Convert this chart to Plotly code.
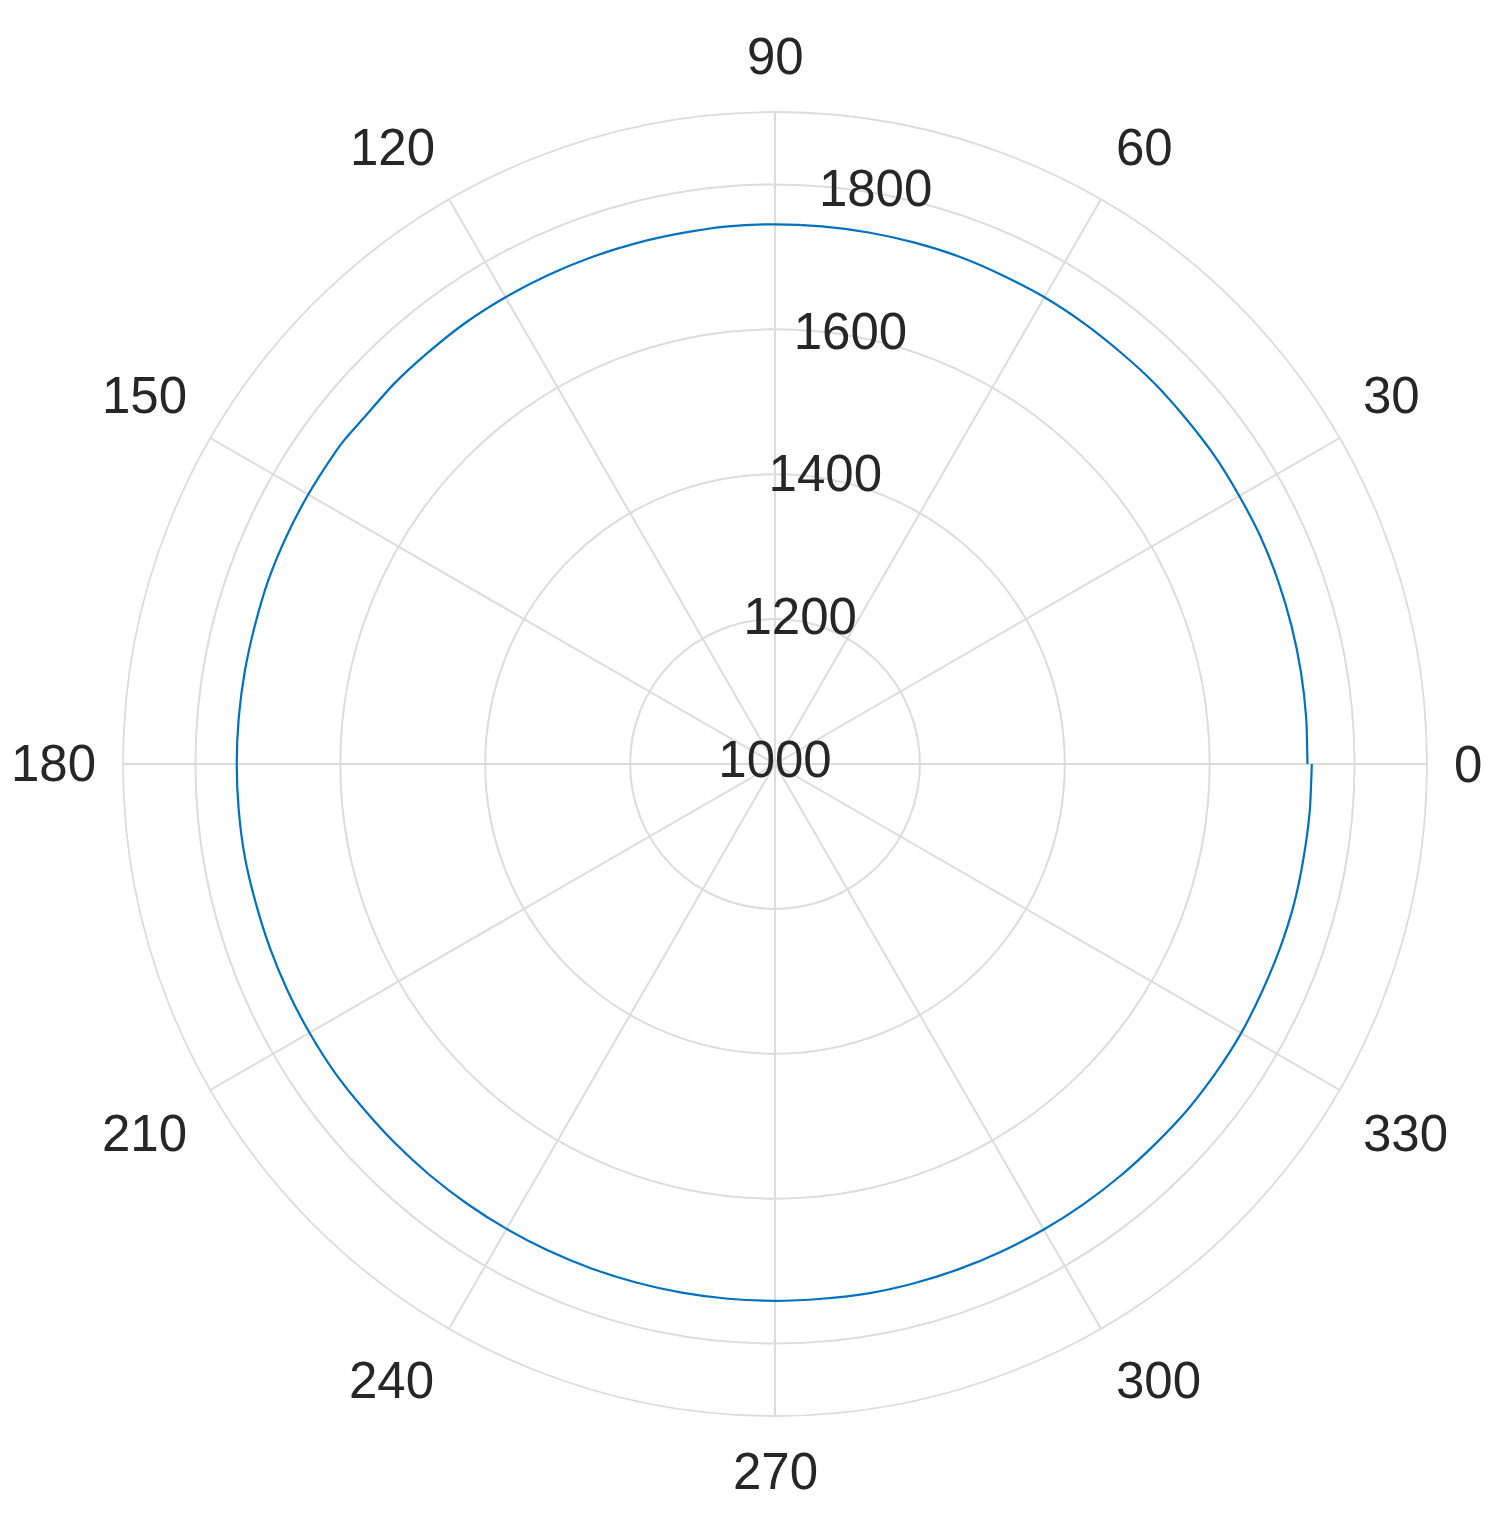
import math
import plotly.graph_objects as go

# Data (every 5 degrees)
theta_deg = sorted(list(range(0, 365, 5)) + [143])
r_vals = [
    1735, 1736, 1737, 1738, 1739, 1740, 1740, 1741, 1741, 1742,   # 0-45
    1742, 1743, 1744, 1744, 1745, 1745, 1745, 1745, 1745, 1745,   # 50-95
    1744, 1744, 1744, 1744, 1744, 1744, 1743, 1743, 1742,         # 100-140
    1744,                                                          # 143
    1744, 1744, 1744, 1744, 1743, 1743, 1743, 1743, 1743, 1743,   # 145-190
    1742, 1742, 1742, 1742, 1742, 1741, 1741, 1741, 1741, 1741,   # 195-240
    1741, 1741, 1741, 1741, 1741, 1741, 1741, 1742, 1742, 1742,   # 245-290
    1742, 1742, 1742, 1742, 1742, 1743, 1743, 1743, 1742, 1742,   # 295-340
    1742, 1741, 1741, 1741, 1741,                                 # 345-360
]

angle_ticks = [0, 30, 60, 90, 120, 150, 180, 210, 240, 270, 300, 330]
angle_labels = [str(a) for a in angle_ticks]
radial_ticks = [1000, 1200, 1400, 1600, 1800]
radial_labels = [str(v) for v in radial_ticks]
r_range = [1000, 1900]
radial_label_angle = 80

W, H = 1500, 1528
GRID = "rgb(220,220,220)"
TEXT = "rgb(38,38,38)"
FONT = "Liberation Sans, Arial, sans-serif"
FS = 51

# polar layout (figure pixels; the page adds its own 7-8 px body margin)
PAGE_OFF = 7
CX, CY = 774 - PAGE_OFF, 763 - PAGE_OFF   # centre of the polar area
R_PX = 652                                 # rim radius
dom_x = [CX - R_PX, CX + R_PX]
dom_y_top = [CY - R_PX, CY + R_PX]

fig = go.Figure()
fig.add_trace(go.Scatterpolar(
    r=r_vals, theta=theta_deg, mode="lines",
    line=dict(color="#0072BD", width=2.2, shape="spline", smoothing=0.6),
    showlegend=False, hoverinfo="skip",
))
fig.add_trace(go.Scatterpolar(
    r=radial_ticks, theta=[radial_label_angle] * len(radial_ticks),
    mode="text", text=radial_labels,
    textfont=dict(family=FONT, size=FS, color=TEXT),
    textposition="middle center", showlegend=False, hoverinfo="skip",
    cliponaxis=False,
))

# angular tick labels placed like MATLAB: anchored on each spoke just outside the rim,
# aligned away from the centre
label_r_px = R_PX + 25
annotations = []
for a, lab in zip(angle_ticks, angle_labels):
    t = math.radians(a)
    c, s = math.cos(t), math.sin(t)
    xa = "left" if c > 1e-6 else ("right" if c < -1e-6 else "center")
    ya = "bottom" if s > 1e-6 else ("top" if s < -1e-6 else "middle")
    px = CX + label_r_px * c
    py = CY - label_r_px * s
    annotations.append(dict(
        x=px / W, y=1 - py / H, xref="paper", yref="paper",
        text=lab, showarrow=False, xanchor=xa, yanchor=ya,
        font=dict(family=FONT, size=FS, color=TEXT),
    ))

fig.update_layout(
    width=W, height=H,
    margin=dict(l=0, r=0, t=0, b=0),
    paper_bgcolor="white",
    font=dict(family=FONT, color=TEXT, size=FS),
    annotations=annotations,
    polar=dict(
        domain=dict(x=[dom_x[0] / W, dom_x[1] / W],
                    y=[1 - dom_y_top[1] / H, 1 - dom_y_top[0] / H]),
        bgcolor="white",
        radialaxis=dict(
            range=r_range, tickmode="array", tickvals=radial_ticks[1:],
            showticklabels=False, ticks="", showline=False,
            gridcolor=GRID, gridwidth=1.8,
        ),
        angularaxis=dict(
            rotation=0, direction="counterclockwise",
            tickmode="array", tickvals=angle_ticks, ticktext=angle_labels,
            showticklabels=False, ticks="",
            showline=True, linecolor=GRID, linewidth=1.8,
            gridcolor=GRID, gridwidth=1.8,
        ),
    ),
)

fig.write_html("out.html")
